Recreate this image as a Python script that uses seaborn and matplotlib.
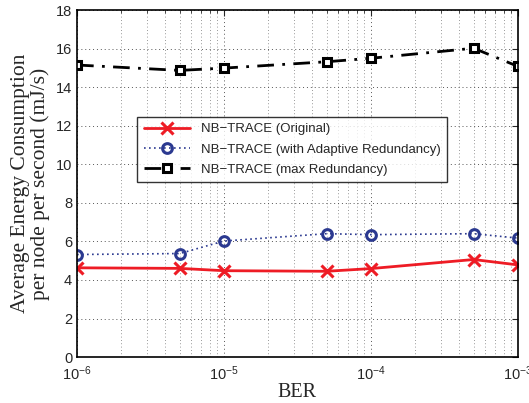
import numpy as np
import pandas as pd
import matplotlib
matplotlib.use('Agg')
import matplotlib.pyplot as plt
import seaborn as sns
from matplotlib.ticker import LogLocator, NullFormatter

# Data
ber = [1e-6, 5e-6, 1e-5, 5e-5, 1e-4, 5e-4, 1e-3]
original = [4.63, 4.60, 4.48, 4.45, 4.59, 5.06, 4.78]
adaptive = [5.32, 5.37, 6.02, 6.40, 6.35, 6.40, 6.17]
max_red = [15.15, 14.87, 14.99, 15.32, 15.50, 16.02, 15.08]

labels = ['NB\u2212TRACE (Original)',
          'NB\u2212TRACE (with Adaptive Redundancy)',
          'NB\u2212TRACE (max Redundancy)']

sns.set_style('white')
plt.rcParams['font.family'] = ['Liberation Sans', 'DejaVu Sans']

fig = plt.figure(figsize=(5.29, 4.03), dpi=100)
ax = fig.add_axes([0.1456, 0.114, 0.8334, 0.861])

df = pd.DataFrame({'BER': ber, 'orig': original, 'adapt': adaptive, 'max': max_red})

red = '#ee1c25'
blue = '#2b3990'
sns.lineplot(data=df, x='BER', y='orig', ax=ax, color=red, lw=2,
             marker='x', markersize=8, markeredgecolor=red, markeredgewidth=2.2,
             label=labels[0])
sns.lineplot(data=df, x='BER', y='adapt', ax=ax, color=blue, lw=1.2,
             linestyle=(0, (1, 2)), marker='o', markersize=7, markerfacecolor='none',
             markeredgecolor=blue, markeredgewidth=2.2, label=labels[1])
sns.lineplot(data=df, x='BER', y='max', ax=ax, color='black', lw=2,
             linestyle=(0, (6, 3, 1, 3)), marker='s', markersize=6,
             markerfacecolor='white', markeredgecolor='black', markeredgewidth=2.2,
             label=labels[2])

ax.set_xscale('log')
ax.set_xlim(1e-6, 1e-3)
ax.set_ylim(0, 18)
ax.set_yticks(range(0, 19, 2))
ax.xaxis.set_major_locator(LogLocator(base=10, numticks=10))
ax.xaxis.set_minor_locator(LogLocator(base=10, subs=np.arange(2, 10), numticks=20))
ax.xaxis.set_minor_formatter(NullFormatter())

ax.grid(True, which='major', linestyle=(0, (1, 3)), color='#555555', linewidth=0.7)
ax.grid(True, which='minor', axis='x', linestyle=(0, (1, 3)), color='#777777', linewidth=0.6)
ax.tick_params(which='both', direction='in', top=True, right=True, labelsize=10.5)
ax.tick_params(which='major', length=4)
ax.tick_params(which='minor', length=2)
ax.tick_params(axis='x', pad=5)
for s in ax.spines.values():
    s.set_color('black')
    s.set_linewidth(1.2)

ax.set_xlabel('BER', family=['Liberation Serif'], fontsize=14.5, labelpad=0)
ax.set_ylabel('Average Energy Consumption\nper node per second (mJ/s)',
              family=['Liberation Serif'], fontsize=15.5, labelpad=4,
              linespacing=1.0)

leg = ax.legend(loc='upper left', bbox_to_anchor=(0.122, 0.712), fontsize=9.5,
                frameon=True, fancybox=False, handlelength=3.5, borderpad=0.5,
                labelspacing=0.6)
leg.get_frame().set_edgecolor('black')
leg.get_frame().set_linewidth(1.0)

fig.savefig('out.png', dpi=100)
